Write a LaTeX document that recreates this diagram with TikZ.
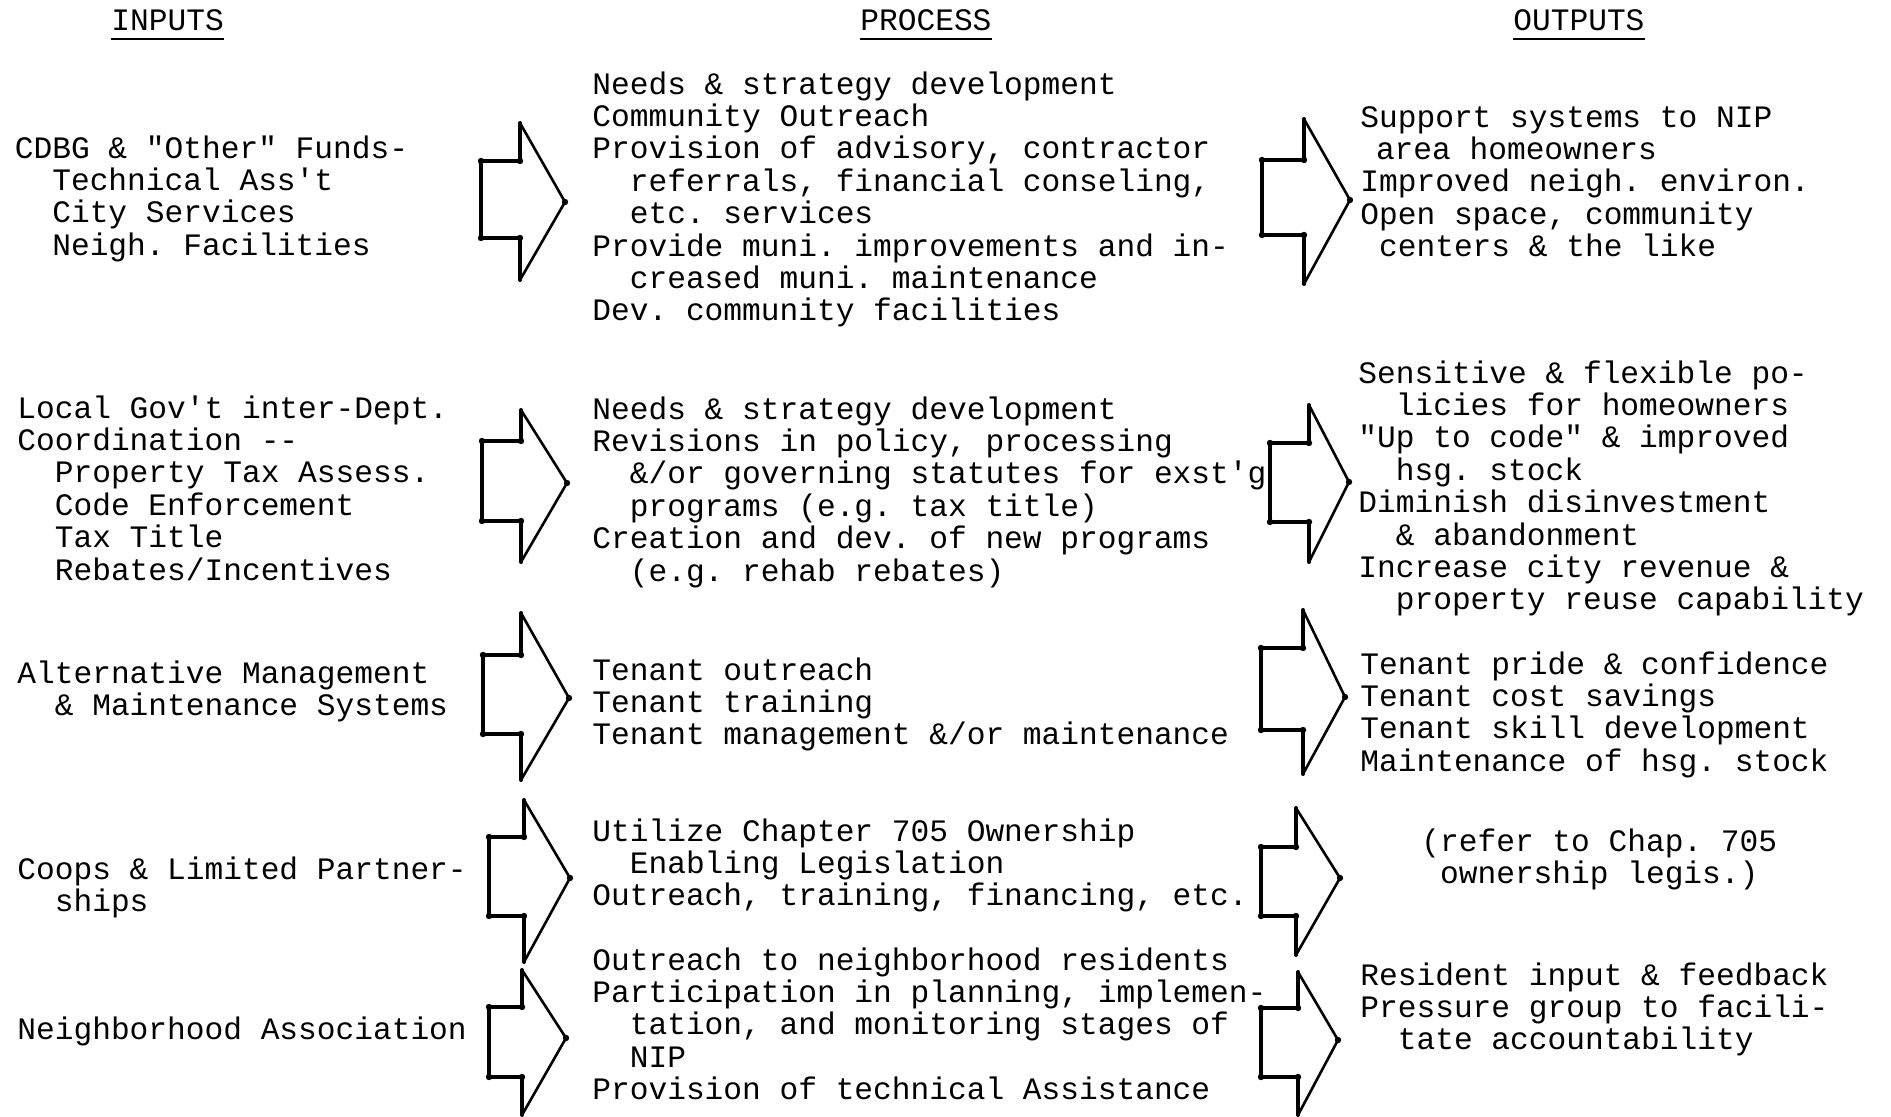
\documentclass[tikz,border=0pt]{standalone}
\usepackage{fontspec}
\setmonofont{Liberation Mono}
\newcommand\tind{\hspace*{1.2em}}
\newcommand\oind{\hspace*{0.6em}}
\tikzset{
  txt/.style={font=\ttfamily\fontsize{15.6}{16.2}\selectfont, align=left, anchor=north west, inner sep=0pt, text=black},
  hdr/.style={txt},
  ulline/.style={line width=1.4pt},
  brk/.style={line width=2pt, line join=round, line cap=round},
  dia/.style={line width=1.3pt, line join=round, line cap=round},
  blob/.style={fill=black}
}
% L, N, T1, B1, VT, tipx, tipy, VB
\newcommand\fatarrow[8]{%
  \draw[dia] (#2,#5) -- (#6,#7) -- (#2,#8);
  \draw[brk] (#2,#5) -- (#2,#3) -- (#1,#3) -- (#1,#4) -- (#2,#4) -- (#2,#8);
  \foreach \px/\py in {#1/#3,#1/#4,#2/#3,#2/#4,#6/#7}{\fill[blob] (\px,\py) circle (1.6pt);}
}
\begin{document}
\begin{tikzpicture}[x=0.5pt,y=-0.5pt]
\useasboundingbox[fill=white] (0,0) rectangle (1891,1117);

% headers
\node[hdr] (hin) at (111,7.5) {\strut INPUTS};
\node[hdr] (hpr) at (860,7.5) {\strut PROCESS};
\node[hdr] (hout) at (1513,7.5) {\strut OUTPUTS};
\draw[ulline] (hin.west |- 0,39) -- (hin.east |- 0,39);
\draw[ulline] (hpr.west |- 0,39) -- (hpr.east |- 0,39);
\draw[ulline] (hout.west |- 0,39) -- (hout.east |- 0,39);

% row 1
\node[txt] (in1) at (14.5,135) {\strut CDBG \& "Other" Funds-\\ \tind Technical Ass't\\ \tind City Services\\ \tind Neigh. Facilities};
\node[txt] (pr1) at (592,71) {\strut Needs \& strategy development\\ Community Outreach\\ Provision of advisory, contractor\\ \tind referrals, financial conseling,\\ \tind etc. services\\ Provide muni. improvements and in-\\ \tind creased muni. maintenance\\ Dev. community facilities};
\node[txt] (out1) at (1360,104) {\strut Support systems to NIP\\ \hspace*{0.5em}area homeowners\\ Improved neigh. environ.\\ Open space, community\\ \oind centers \& the like};

% row 2
\node[txt] (in2) at (17,395) {\strut Local Gov't inter-Dept.\\ Coordination -{}-\\ \tind Property Tax Assess.\\ \tind Code Enforcement\\ \tind Tax Title\\ \tind Rebates/Incentives};
\node[txt] (pr2) at (592,396) {\strut Needs \& strategy development\\ Revisions in policy, processing\\ \tind \&/or governing statutes for exst'g\\ \tind programs (e.g. tax title)\\ Creation and dev. of new programs\\ \tind (e.g. rehab rebates)};
\node[txt] (out2) at (1358,360) {\strut Sensitive \& flexible po-\\ \tind licies for homeowners\\ "Up to code" \& improved\\ \tind hsg. stock\\ Diminish disinvestment\\ \tind \& abandonment\\ Increase city revenue \&\\ \tind property reuse capability};

% row 3
\node[txt] (in3) at (17,660) {\strut Alternative Management\\ \tind \& Maintenance Systems};
\node[txt] (pr3) at (592,657) {\strut Tenant outreach\\ Tenant training\\ Tenant management \&/or maintenance};
\node[txt] (out3) at (1360,651) {\strut Tenant pride \& confidence\\ Tenant cost savings\\ Tenant skill development\\ Maintenance of hsg. stock};

% row 4
\node[txt] (in4) at (17,856) {\strut Coops \& Limited Partner-\\ \tind ships};
\node[txt] (pr4) at (592,818) {\strut Utilize Chapter 705 Ownership\\ \tind Enabling Legislation\\ Outreach, training, financing, etc.};
\node[txt] (out4) at (1421,828) {\strut (refer to Chap. 705\\ \oind ownership legis.)};

% row 5
\node[txt] (in5) at (17,1016) {\strut Neighborhood Association};
\node[txt] (pr5) at (592,947) {\strut Outreach to neighborhood residents\\ Participation in planning, implemen-\\ \tind tation, and monitoring stages of\\ \tind NIP\\ Provision of technical Assistance};
\node[txt] (out5) at (1360,962) {\strut Resident input \& feedback\\ Pressure group to facili-\\ \tind tate accountability};

% block arrows
\fatarrow{481}{520}{161}{238}{123}{565}{202}{280}
\fatarrow{1262}{1304}{160}{235}{119}{1350}{200}{284}
\fatarrow{482}{521}{441}{521}{410}{567}{483}{562}
\fatarrow{1270}{1309}{443}{522}{405}{1349}{482}{562}
\fatarrow{483}{521}{655}{734}{613}{569}{698}{780}
\fatarrow{1261}{1303}{648}{730}{610}{1345}{697}{774}
\fatarrow{489}{524}{837}{916}{800}{570}{878}{962}
\fatarrow{1261}{1296}{847}{916}{808}{1340}{878}{955}
\fatarrow{489}{522}{1007}{1077}{970}{566}{1038}{1115}
\fatarrow{1261}{1298}{1008}{1077}{972}{1338}{1040}{1115}
\end{tikzpicture}
\end{document}
